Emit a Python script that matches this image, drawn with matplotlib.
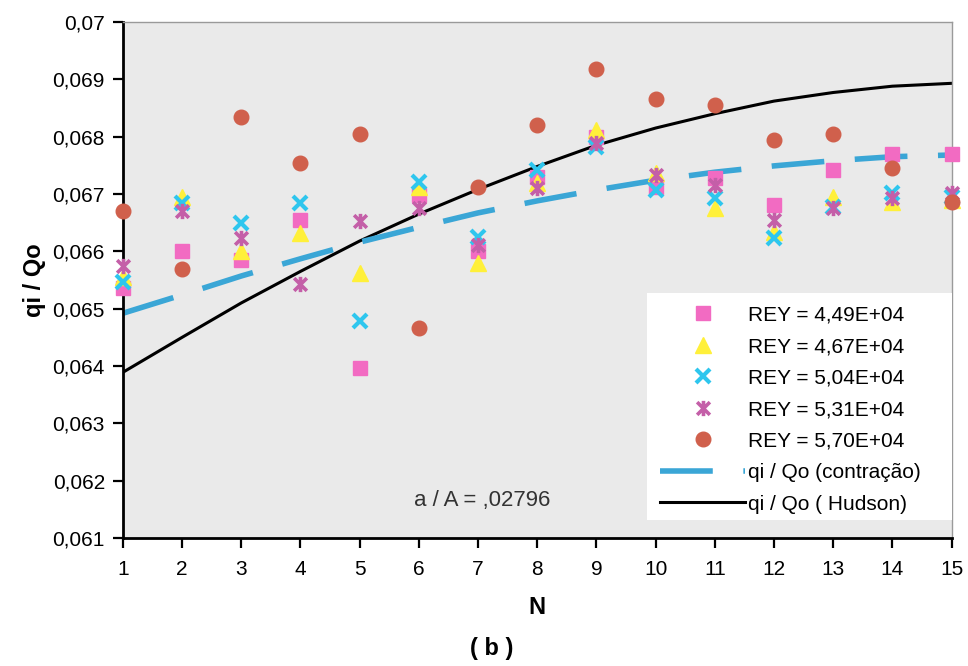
import matplotlib
matplotlib.use("Agg")
import matplotlib.pyplot as plt
from matplotlib.path import Path
from matplotlib.lines import Line2D
from matplotlib.patches import Rectangle

plt.rcParams['font.family'] = ['Liberation Sans', 'DejaVu Sans']

N = list(range(1, 16))

rey_449 = [0.06536, 0.06600, 0.06585, 0.06655, 0.06396, 0.06698, 0.06600, 0.06730,
           0.06800, 0.06712, 0.06728, 0.06681, 0.06742, 0.06770, 0.06770]
rey_467 = [0.06555, 0.06695, 0.06600, 0.06632, 0.06562, 0.06712, 0.06580, 0.06720,
           0.06812, 0.06737, 0.06676, 0.06634, 0.06695, 0.06686, 0.06690]
rey_504 = [0.06547, 0.06684, 0.06649, 0.06684, 0.06478, 0.06721, 0.06625, 0.06742,
           0.06782, 0.06707, 0.06693, 0.06623, 0.06677, 0.06702, 0.06695]
rey_531 = [0.06575, 0.06670, 0.06623, 0.06543, 0.06653, 0.06676, 0.06611, 0.06710,
           0.06789, 0.06733, 0.06716, 0.06655, 0.06676, 0.06693, 0.06702]
rey_570 = [0.06670, 0.06569, 0.06834, 0.06754, 0.06805, 0.06466, 0.06712, 0.06820,
           0.06918, 0.06866, 0.06855, 0.06794, 0.06805, 0.06745, 0.06686]

contracao = [0.06492, 0.06524, 0.06557, 0.06587, 0.06616, 0.06642, 0.06667, 0.06688,
             0.06707, 0.06724, 0.06738, 0.06749, 0.06758, 0.06765, 0.06768]
hudson = [0.06389, 0.06450, 0.06510, 0.06565, 0.06618, 0.06665, 0.06708, 0.06748,
          0.06785, 0.06815, 0.06840, 0.06862, 0.06877, 0.06888, 0.06893]

labels = ["REY = 4,49E+04", "REY = 4,67E+04", "REY = 5,04E+04",
          "REY = 5,31E+04", "REY = 5,70E+04",
          "qi / Qo (contração)", "qi / Qo ( Hudson)"]

y_ticks = [0.061, 0.062, 0.063, 0.064, 0.065, 0.066, 0.067, 0.068, 0.069, 0.070]
y_tick_labels = ["0,061", "0,062", "0,063", "0,064", "0,065", "0,066",
                 "0,067", "0,068", "0,069", "0,07"]
x_ticks = N
annotation = "a / A = ,02796"

# asterisk marker: X plus vertical bar
ast = Path([(-1, -1), (1, 1), (-1, 1), (1, -1), (0, -1.2), (0, 1.2)],
           [Path.MOVETO, Path.LINETO, Path.MOVETO, Path.LINETO, Path.MOVETO, Path.LINETO])

fig = plt.figure(figsize=(9.68, 6.66), dpi=100)
ax = fig.add_axes([0.127, 0.1922, 0.856, 0.7748])
ax.set_facecolor('#EAEAEA')

pink = '#F26BC2'
yellow = '#FFF03A'
cyan = '#2EC6EE'
mauve = '#C45FA8'
red = '#D0604C'
blue = '#3AA6D6'

ax.plot(N, hudson, color='black', lw=2.2, zorder=2)
ax.plot(N, contracao, color=blue, lw=4, dashes=(9.5, 5.5), zorder=2)

kw = dict(linestyle='none', clip_on=False, zorder=3)
h1, = ax.plot(N, rey_449, marker='s', ms=10, color=pink, mec=pink, **kw)
h2, = ax.plot(N, rey_467, marker='^', ms=11, color=yellow, mec=yellow, **kw)
h3, = ax.plot(N, rey_504, marker='x', ms=10, mew=3, color=cyan, **kw)
h4, = ax.plot(N, rey_531, marker=ast, ms=11, mew=2.6, color=mauve, **kw)
h5, = ax.plot(N, rey_570, marker='o', ms=10.5, color=red, mec=red, **kw)

hc = Line2D([], [], color=blue, lw=4, dashes=(9.5, 5.5))
hh = Line2D([], [], color='black', lw=2.2)

ax.set_xlim(1, 15)
ax.set_ylim(0.061, 0.070)
ax.set_xticks(x_ticks)
ax.set_xticklabels([str(n) for n in x_ticks])
ax.set_yticks(y_ticks)
ax.set_yticklabels(y_tick_labels)
ax.tick_params(axis='both', labelsize=15, length=7, width=1.6, direction='out', colors='black')
ax.tick_params(axis='x', pad=9)
ax.tick_params(axis='y', pad=6)

for s in ['left', 'bottom']:
    ax.spines[s].set_linewidth(2)
    ax.spines[s].set_color('black')
for s in ['top', 'right']:
    ax.spines[s].set_linewidth(1)
    ax.spines[s].set_color('#9A9A9A')

ax.set_ylabel("qi / Qo", fontsize=17, fontweight='bold', labelpad=5)
ax.set_xlabel("N", fontsize=17, fontweight='bold', labelpad=12)
fig.text(0.508, 0.027, "( b )", fontsize=17, fontweight='bold', ha='center', va='center')

ax.text(5.91, 0.06166, annotation, fontsize=16, ha='left', va='center', color='#333333')

# legend background box
ax.add_patch(Rectangle((0.633, 0.035), 0.367, 0.44, transform=ax.transAxes,
                       facecolor='white', edgecolor='none', zorder=4))

leg = ax.legend([h1, h2, h3, h4, h5, hc, hh], labels, loc='lower left',
                bbox_to_anchor=(0.648, 0.047), fontsize=15, frameon=False,
                handlelength=4.1, labelspacing=0.6, borderpad=0, handletextpad=0.15,
                borderaxespad=0)
leg.set_zorder(5)

fig.savefig('out.png', dpi=100)
